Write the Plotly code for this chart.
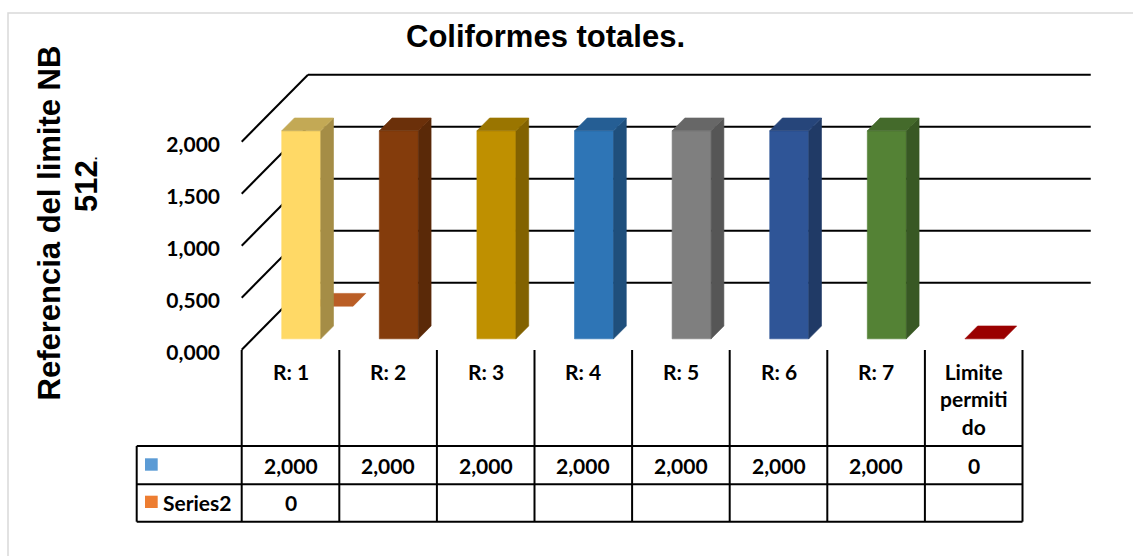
import plotly.graph_objects as go

# ---------------- data ----------------
categories = ["R: 1", "R: 2", "R: 3", "R: 4", "R: 5", "R: 6", "R: 7", "Limite permitido"]
header_labels = ["R: 1", "R: 2", "R: 3", "R: 4", "R: 5", "R: 6", "R: 7", "Limite<br>permiti<br>do"]
series1_values = [2, 2, 2, 2, 2, 2, 2, 0]
series2_values = [0, None, None, None, None, None, None, None]
series2_name = "Series2"
y_ticks = [0, 0.5, 1.0, 1.5, 2.0]

# (front, side, top) shades for every column of the first series
point_colors = [
    ("#FFD966", "#A58D46", "#C3A955"),
    ("#843C0C", "#5A2908", "#6B300A"),
    ("#BF9000", "#826200", "#9A7500"),
    ("#2E75B6", "#1F4F7C", "#255E94"),
    ("#7F7F7F", "#565656", "#676767"),
    ("#2F5597", "#203A66", "#26457A"),
    ("#548235", "#385824", "#446A2B"),
    ("#C00000", "#830000", "#9A0000"),
]
series2_colors = ("#ED7D31", "#A1551F", "#BA5E26")
series1_key_color = "#5B9BD5"
series2_key_color = "#ED7D31"

# ---------------- geometry (pixels) ----------------
FIG_W, FIG_H = 1133, 556
FRONT_LEFT_PX = 241.7      # pixel of the front plane left edge (x = -0.5)
CAT_PX = 97.6              # pixels per category
ZERO_PX = 349.7            # pixel row of value 0 on the front plane
UNIT_PX = 104.0            # pixels per value unit
DOM_LEFT_PX, DOM_TOP_PX, DOM_BOTTOM_PX = 236.0, 20.0, 360.0

# oblique depth of the floor/walls, in axis units
DEPTH_X = 66.3 / CAT_PX
DEPTH_Y = 67.0 / UNIT_PX
BAR_W = 0.40
ROW1 = (0.162, 0.354)   # depth band of the first series
ROW2 = (0.650, 0.840)   # depth band of the second series

x_range = [-0.5 - (FRONT_LEFT_PX - DOM_LEFT_PX) / CAT_PX,
           -0.5 + (FIG_W - FRONT_LEFT_PX) / CAT_PX]
y_range = [(ZERO_PX - DOM_BOTTOM_PX) / UNIT_PX, (ZERO_PX - DOM_TOP_PX) / UNIT_PX]


def xpaper(xv):
    return (FRONT_LEFT_PX + (xv + 0.5) * CAT_PX) / FIG_W


def ppx(px):
    return px / FIG_W


def ppy(py):
    return 1 - py / FIG_H


def fmt(v):
    return "0" if v == 0 else f"{v:.3f}".replace(".", ",")


fig = go.Figure()


def face(xs, ys, color):
    fig.add_trace(go.Scatter(
        x=xs + [xs[0]], y=ys + [ys[0]], mode="lines", fill="toself",
        fillcolor=color, line=dict(color=color, width=0.6),
        hoverinfo="skip", showlegend=False))


def line(xs, ys):
    fig.add_trace(go.Scatter(
        x=xs, y=ys, mode="lines", line=dict(color="#000000", width=2),
        hoverinfo="skip", showlegend=False))


# walls: side wall diagonals and back wall gridlines
for v in y_ticks:
    line([-0.5, -0.5 + DEPTH_X], [v, v + DEPTH_Y])
    line([-0.5 + DEPTH_X, 7.5 + DEPTH_X + 0.02], [v + DEPTH_Y, v + DEPTH_Y])


def bar(i, v, band, colors):
    da, db = band
    front, side, top = colors
    x0 = i - BAR_W / 2 + da * DEPTH_X
    x1 = i + BAR_W / 2 + da * DEPTH_X
    yb = da * DEPTH_Y
    yt = v + da * DEPTH_Y
    ddx = (db - da) * DEPTH_X
    ddy = (db - da) * DEPTH_Y
    if v > 0:
        face([x0, x1, x1, x0], [yb, yb, yt, yt], front)
        face([x1, x1 + ddx, x1 + ddx, x1], [yb, yb + ddy, yt + ddy, yt], side)
    face([x0, x1, x1 + ddx, x0 + ddx], [yt, yt, yt + ddy, yt + ddy], top)


# back row first, then the front row
for i, v in enumerate(series2_values):
    if v is not None:
        bar(i, v, ROW2, series2_colors)
for i, v in enumerate(series1_values):
    if v is not None:
        bar(i, v, ROW1, point_colors[i])

shapes = []
annotations = []

# outer chart border
shapes.append(dict(type="rect", xref="paper", yref="paper",
                   x0=ppx(8), x1=1.02, y0=ppy(13), y1=-0.02,
                   line=dict(color="#D9D9D9", width=1.5), layer="below"))

# data table
T_HEAD, T_ROW1, T_ROW2, T_BOT = 350.0, 446.0, 484.3, 521.7
T_LEFT = 136.7
tline = dict(color="#000000", width=2)
for k in range(len(categories) + 1):
    xv = xpaper(-0.5 + k)
    shapes.append(dict(type="line", xref="paper", yref="paper",
                       x0=xv, x1=xv, y0=ppy(T_HEAD), y1=ppy(T_BOT), line=tline))
shapes.append(dict(type="line", xref="paper", yref="paper",
                   x0=ppx(T_LEFT), x1=ppx(T_LEFT), y0=ppy(T_ROW1), y1=ppy(T_BOT), line=tline))
for yy in (T_ROW1, T_ROW2, T_BOT):
    shapes.append(dict(type="line", xref="paper", yref="paper",
                       x0=ppx(T_LEFT), x1=xpaper(len(categories) - 0.5),
                       y0=ppy(yy), y1=ppy(yy), line=tline))

# legend keys in the table
for color, (ya, yb) in ((series1_key_color, (458.3, 470.7)), (series2_key_color, (495.7, 508.0))):
    shapes.append(dict(type="rect", xref="paper", yref="paper",
                       x0=ppx(145), x1=ppx(157.7), y0=ppy(yb), y1=ppy(ya),
                       fillcolor=color, line=dict(width=0)))

tfont = dict(family="Lato", size=21, color="#000000", weight="bold")
for i, lab in enumerate(header_labels):
    annotations.append(dict(x=i, xref="x", y=ppy(357), yref="paper", text=lab,
                            showarrow=False, xanchor="center", yanchor="top", font=tfont))
for i, v in enumerate(series1_values):
    if v is not None:
        annotations.append(dict(x=i, xref="x", y=ppy(465), yref="paper", text=fmt(v),
                                showarrow=False, xanchor="center", yanchor="middle", font=tfont))
for i, v in enumerate(series2_values):
    if v is not None:
        annotations.append(dict(x=i, xref="x", y=ppy(502.7), yref="paper", text=fmt(v),
                                showarrow=False, xanchor="center", yanchor="middle", font=tfont))
annotations.append(dict(x=ppx(161), xref="paper", y=ppy(502.7), yref="paper", text=series2_name,
                        showarrow=False, xanchor="left", yanchor="middle", font=tfont))

# title and value-axis title
afont = dict(family="Liberation Sans, Arial", size=31, color="#000000", weight="bold")
annotations.append(dict(x=ppx(545), y=ppy(36), xref="paper", yref="paper",
                        text="Coliformes totales.", showarrow=False,
                        xanchor="center", yanchor="middle", font=afont))
annotations.append(dict(x=ppx(49), y=ppy(223.5), xref="paper", yref="paper",
                        text="Referencia del limite NB", textangle=-90, showarrow=False,
                        xanchor="center", yanchor="middle", font=afont))
annotations.append(dict(x=ppx(87), y=ppy(185), xref="paper", yref="paper",
                        text="512<span style='font-size:13px'>.</span>", textangle=-90,
                        showarrow=False, xanchor="center", yanchor="middle", font=afont))

fig.update_layout(
    width=FIG_W, height=FIG_H,
    margin=dict(l=0, r=0, t=0, b=0, autoexpand=False),
    paper_bgcolor="#FFFFFF", plot_bgcolor="#FFFFFF",
    separators=",.",
    showlegend=False,
    shapes=shapes, annotations=annotations,
    xaxis=dict(domain=[DOM_LEFT_PX / FIG_W, 1.0], range=x_range, automargin=False,
               showgrid=False, zeroline=False, showline=False,
               showticklabels=False, ticks=""),
    yaxis=dict(domain=[1 - DOM_BOTTOM_PX / FIG_H, 1 - DOM_TOP_PX / FIG_H], range=y_range,
               automargin=False,
               showgrid=False, zeroline=False, showline=False, ticks="",
               tickvals=y_ticks, tickformat=".3f", ticklabelstandoff=15,
               ticklabelshift=3,
               tickfont=dict(family="Lato", size=21, color="#000000", weight="bold")),
)

fig.write_html("out.html")
